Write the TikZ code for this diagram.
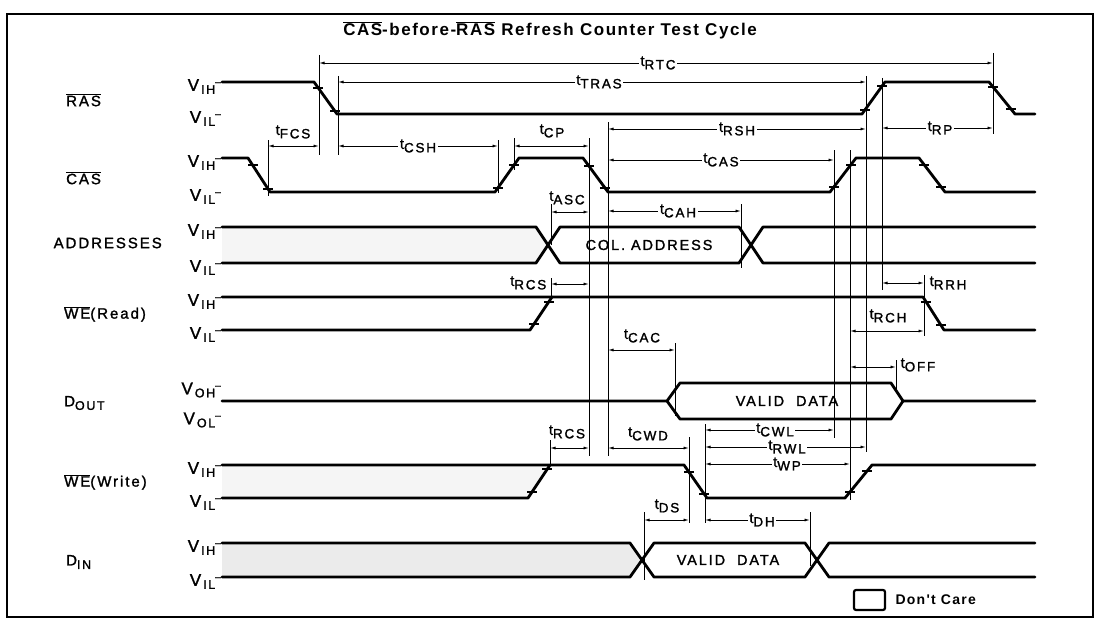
\documentclass[tikz,border=0pt]{standalone}
\usepackage{fontspec}
\setsansfont{Liberation Sans}[LetterSpace=13,FakeBold=1.5]
\newfontfamily\ttlfont{Liberation Sans}[LetterSpace=9]
\usetikzlibrary{arrows.meta}
\newcommand\ovbar[1]{\ensuremath{\overline{\mbox{#1}}}}
\newcommand\tlab[1]{{\fontsize{14.5}{14.5}\selectfont t}\raisebox{-3.5pt}{\fontsize{13.5}{13.5}\selectfont #1}}
\newcommand\vlab[2]{{\fontsize{17}{17}\selectfont #1}\hspace{2pt}\raisebox{-3pt}{\fontsize{12.5}{12.5}\selectfont #2}\raisebox{5.5pt}{\fontsize{10}{10}\selectfont --}}
\newcommand\dsub[2]{#1\raisebox{-3.5pt}{\fontsize{12.5}{12.5}\selectfont #2}}
\begin{document}
\begin{tikzpicture}[x=1pt,y=-1pt,
  sig/.style={line width=2.8pt, line join=round, line cap=round},
  vline/.style={line width=0.9pt},
  dim/.style={line width=0.9pt, {Latex[length=5.5pt,width=3pt]}-{Latex[length=5.5pt,width=3pt]}},
  tick/.style={line width=1.1pt},
  lab/.style={font=\sffamily\fontsize{14.5}{14.5}\selectfont, inner sep=1.5pt},
  inl/.style={lab, fill=white},
  rowlab/.style={font=\sffamily\fontsize{15}{15}\selectfont, anchor=west, inner sep=0pt},
  vlabst/.style={font=\sffamily, anchor=east, inner sep=0pt},
  dc/.style={fill=black!4, draw=none},
  boxtext/.style={font=\sffamily\fontsize{14.5}{14.5}\selectfont}
]
\useasboundingbox (0,0) rectangle (1099,623);
\draw[line width=1.3pt] (7,14) rectangle (1093,617);

% title
\node[font=\ttlfont\bfseries\fontsize{17}{17}\selectfont] (title) at (550,30)
  {\ovbar{CAS}-before-\ovbar{RAS} Refresh Counter Test Cycle};

% row labels
\node[rowlab] (lRAS) at (66,100) {\ovbar{RAS}};
\node[rowlab] (lCAS) at (66,178) {\ovbar{CAS}};
\node[rowlab, anchor=east] (lADDR) at (162,243) {ADDRESSES};
\node[rowlab] (lWER) at (64,314) {\ovbar{WE}(Read)};
\node[rowlab] (lDOUT) at (64,403) {\dsub{D}{OUT}};
\node[rowlab] (lWEW) at (64,482) {\ovbar{WE}(Write)};
\node[rowlab] (lDIN) at (66,562) {\dsub{D}{IN}};

% level labels
\foreach \hi/\lo [count=\i] in {82/114,158/192,227/263,297/330,465/498,543/577}{
  \node[vlabst] (vih\i) at (221,\hi+4.5) {\vlab{V}{IH}};
  \node[vlabst] (vil\i) at (221,\lo+4.5) {\vlab{V}{IL}};
}
\node[vlabst] (voh) at (221,390) {\vlab{V}{OH}};
\node[vlabst] (vol) at (221,420) {\vlab{V}{OL}};

% don't care fills
\fill[dc] (222,227) -- (536,227) -- (548,245) -- (536,263) -- (222,263) -- cycle;
\fill[dc] (222,465) -- (550,465) -- (528,498) -- (222,498) -- cycle;
\fill[black!8] (222,543) -- (630,543) -- (642,560) -- (630,577) -- (222,577) -- cycle;

% signals
\draw[sig] (222,82) -- (314,82) -- (337,114) -- (862,114) -- (885,82) -- (989,82) -- (1015,114) -- (1035,114);
\draw[sig] (222,158) -- (248,158) -- (270,192) -- (495,192) -- (519,158) -- (583,158) -- (608,192) -- (830,192) -- (856,158) -- (919,158) -- (945,192) -- (1035,192);
\draw[sig] (222,227) -- (536,227) -- (560,263) -- (739,263) -- (763,227) -- (1035,227);
\draw[sig] (222,263) -- (536,263) -- (560,227) -- (739,227) -- (763,263) -- (1035,263);
\draw[sig] (222,297) -- (923,297) -- (944,330) -- (1035,330);
\draw[sig] (222,330) -- (530,330) -- (552,297);
\draw[sig] (222,401) -- (667,401) -- (680,383) -- (891,383) -- (903,401) -- (1035,401);
\draw[sig] (667,401) -- (680,419) -- (891,419) -- (903,401);
\draw[sig] (222,465) -- (684,465) -- (707,498) -- (845,498) -- (872,465) -- (1035,465);
\draw[sig] (222,498) -- (528,498) -- (550,465);
\draw[sig] (222,543) -- (630,543) -- (654,577) -- (805,577) -- (829,543) -- (1035,543);
\draw[sig] (222,577) -- (630,577) -- (654,543) -- (805,543) -- (829,577) -- (1035,577);

\node[boxtext] (coladdr) at (649,245) {COL. ADDRESS};
\node[boxtext] (dout) at (787,401) {VALID\hspace{6pt} DATA};
\node[boxtext] (din) at (728,560) {VALID\hspace{6pt} DATA};

% edge ticks
\foreach \x/\y in {318/88,335/111,865/110,882/86,993/87,1011/109,
  253/165,268/189,498/188,514/165,589/166,605/188,834/187,851/165,924/165,941/187,
  534/324,549/302,926/302,941/325,532/492,547/469,689/472,704/494,850/492,867/471}
  \draw[tick] (\x-5,\y) -- (\x+5,\y);

% vertical reference lines
\foreach \x/\a/\b in {319/55/155,338/76/155,268/140/196,498/140/193,514/138/170,
  589/138/456,608/122/456,551/204/245,551/278/298,550/440/466,741/204/268,
  675/343/416,834/150/438,850/150/500,866/76/452,882/78/290,924/275/336,
  896/360/390,993/53/134,689/437/523,705/424/523,644/512/580,810/512/566}
  \draw[vline] (\x,\a) -- (\x,\b);

% dimension arrows with inline labels
\draw[dim] (319,63) -- (993,63);   \node[inl] (tRTC) at (658,63) {\tlab{RTC}};
\draw[dim] (338,82) -- (866,82);   \node[inl] (tTRAS) at (599,82) {\tlab{TRAS}};
\draw[dim] (338,146) -- (498,146); \node[inl] (tCSH) at (418,146) {\tlab{CSH}};
\draw[dim] (608,129) -- (866,129); \node[inl] (tRSH) at (737,129) {\tlab{RSH}};
\draw[dim] (882,128) -- (993,128); \node[inl] (tRP) at (940,128) {\tlab{RP}};
\draw[dim] (608,160) -- (834,160); \node[inl] (tCAS) at (721,160) {\tlab{CAS}};
\draw[dim] (608,211) -- (741,211); \node[inl] (tCAH) at (678,211) {\tlab{CAH}};
\draw[dim] (705,430) -- (834,430); \node[inl] (tCWL) at (775,430) {\tlab{CWL}};
\draw[dim] (705,447) -- (866,447); \node[inl] (tRWL) at (787,447) {\tlab{RWL}};
\draw[dim] (705,464) -- (850,464); \node[inl] (tWP) at (787,464) {\tlab{WP}};
\draw[dim] (705,520) -- (810,520); \node[inl] (tDH) at (762,520) {\tlab{DH}};

% dimension arrows with labels beside
\draw[dim] (268,146) -- (319,146); \node[lab] (tFCS) at (293,132) {\tlab{FCS}};
\draw[dim] (514,146) -- (589,146); \node[lab] (tCP) at (552,131) {\tlab{CP}};
\draw[dim] (551,212) -- (589,212); \node[lab] (tASC) at (567,198) {\tlab{ASC}};
\draw[dim] (551,284) -- (589,284); \node[lab, anchor=east] (tRCS1) at (548,283) {\tlab{RCS}};
\draw[dim] (882,283) -- (924,283); \node[lab, anchor=west] (tRRH) at (928,283) {\tlab{RRH}};
\draw[dim] (850,331) -- (924,331); \node[lab] (tRCH) at (888,316) {\tlab{RCH}};
\draw[dim] (608,350) -- (675,350); \node[lab] (tCAC) at (642,336) {\tlab{CAC}};
\draw[dim] (850,367) -- (896,367); \node[lab, anchor=west] (tOFF) at (899,365) {\tlab{OFF}};
\draw[dim] (550,448) -- (589,448); \node[lab] (tRCS2) at (567,432) {\tlab{RCS}};
\draw[dim] (608,448) -- (689,448); \node[lab] (tCWD) at (648,434) {\tlab{CWD}};
\draw[dim] (644,520) -- (689,520); \node[lab] (tDS) at (667,506) {\tlab{DS}};

% legend
\draw[line width=2.2pt, rounded corners=2pt] (854,590) rectangle (885,610);
\node[font=\ttlfont\bfseries\fontsize{14}{14}\selectfont, anchor=west] (dcare) at (892,600) {Don't Care};
\end{tikzpicture}
\end{document}
